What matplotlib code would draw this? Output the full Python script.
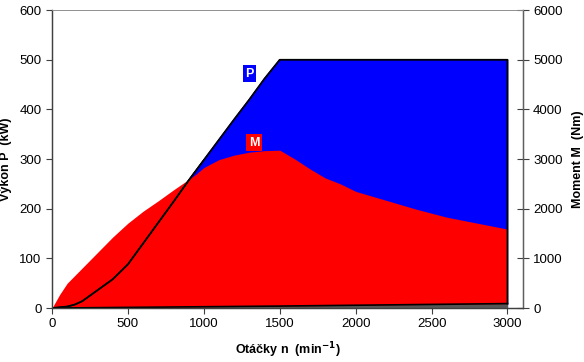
import matplotlib.pyplot as plt

plt.rcParams['font.family'] = ['Liberation Sans', 'DejaVu Sans']

# otacky n (min^-1)
n_p = [0, 100, 150, 200, 300, 400, 500, 600, 700, 800, 900, 1000, 1100, 1200, 1300, 1400, 1500, 3000]
# vykon P (kW)
vykon = [0, 3, 7, 14, 36, 58, 88, 130, 172, 214, 257, 298, 339, 380, 420, 462, 500, 500]

n_m = [0, 50, 100, 200, 300, 400, 500, 600, 700, 800, 900, 950, 1000, 1100, 1200, 1300, 1400, 1500,
       1600, 1700, 1800, 1900, 2000, 2200, 2400, 2600, 2800, 3000]
# moment M (Nm)
moment = [0, 270, 500, 810, 1120, 1430, 1710, 1950, 2160, 2380, 2590, 2700, 2830, 2990, 3080, 3140, 3170, 3180,
          3000, 2800, 2620, 2500, 2350, 2170, 1990, 1830, 1710, 1590]

# spodni cara (kW)
n_z = [0, 1500, 3000]
ztrata = [0, 4, 9]

fig = plt.figure(figsize=(5.84, 3.62), dpi=100)
ax = fig.add_axes([0.089, 0.149, 0.806, 0.823])
ax2 = ax.twinx()

# P plocha (modra) s cernym obrysem
ax.fill(n_p + [3000], vykon + [0], color='#0000ff', zorder=1)
ax.plot(n_p + [3000], vykon + [ztrata[-1]], color='black', lw=1.3, zorder=4)

# M plocha (cervena) - v jednotkach leve osy (1:10)
ax.fill_between(n_m, [m / 10 for m in moment], 0, color='#ff0000', lw=0, zorder=2)
ax.plot(n_p[:12], vykon[:12], color='black', lw=1.0, zorder=5)

ax.fill_between(n_z, ztrata, 0, color='#555555', lw=0, zorder=3)
ax.plot(n_z, ztrata, color='black', lw=1.2, zorder=5)

ax.text(1300, 472, 'P', color='white', fontweight='bold', fontsize=9, ha='center', va='center',
        bbox=dict(boxstyle='square,pad=0.2', fc='#0000ff', ec='none'), zorder=6)
ax.text(1330, 333, 'M', color='white', fontweight='bold', fontsize=9, ha='center', va='center',
        bbox=dict(boxstyle='square,pad=0.2', fc='#ff0000', ec='none'), zorder=6)

ax.set_xlim(0, 3100)
ax.set_ylim(0, 600)
ax2.set_ylim(0, 6000)
ax.set_xticks([0, 500, 1000, 1500, 2000, 2500, 3000])
ax.set_yticks([0, 100, 200, 300, 400, 500, 600])
ax2.set_yticks([0, 1000, 2000, 3000, 4000, 5000, 6000])

for a in (ax, ax2):
    a.tick_params(labelsize=9.5, length=4, width=0.8, color='#404040', direction='out')
    for s in a.spines.values():
        s.set_color('#404040')
        s.set_linewidth(0.9)
    a.spines['top'].set_color('#909090')
    a.spines['top'].set_linewidth(0.6)
ax2.spines['right'].set_color('#606060')
ax2.tick_params(axis='y', direction='inout', length=8)

ax.set_ylabel('Výkon P  (kW)', fontweight='bold', fontsize=9, labelpad=5)
ax2.set_ylabel('Moment M  (Nm)', fontweight='bold', fontsize=9, labelpad=7)
ax.set_xlabel('Otáčky n  (min$^{\\mathbf{-1}}$)', fontweight='bold', fontsize=9, labelpad=7)

fig.savefig('out.png', dpi=100)
